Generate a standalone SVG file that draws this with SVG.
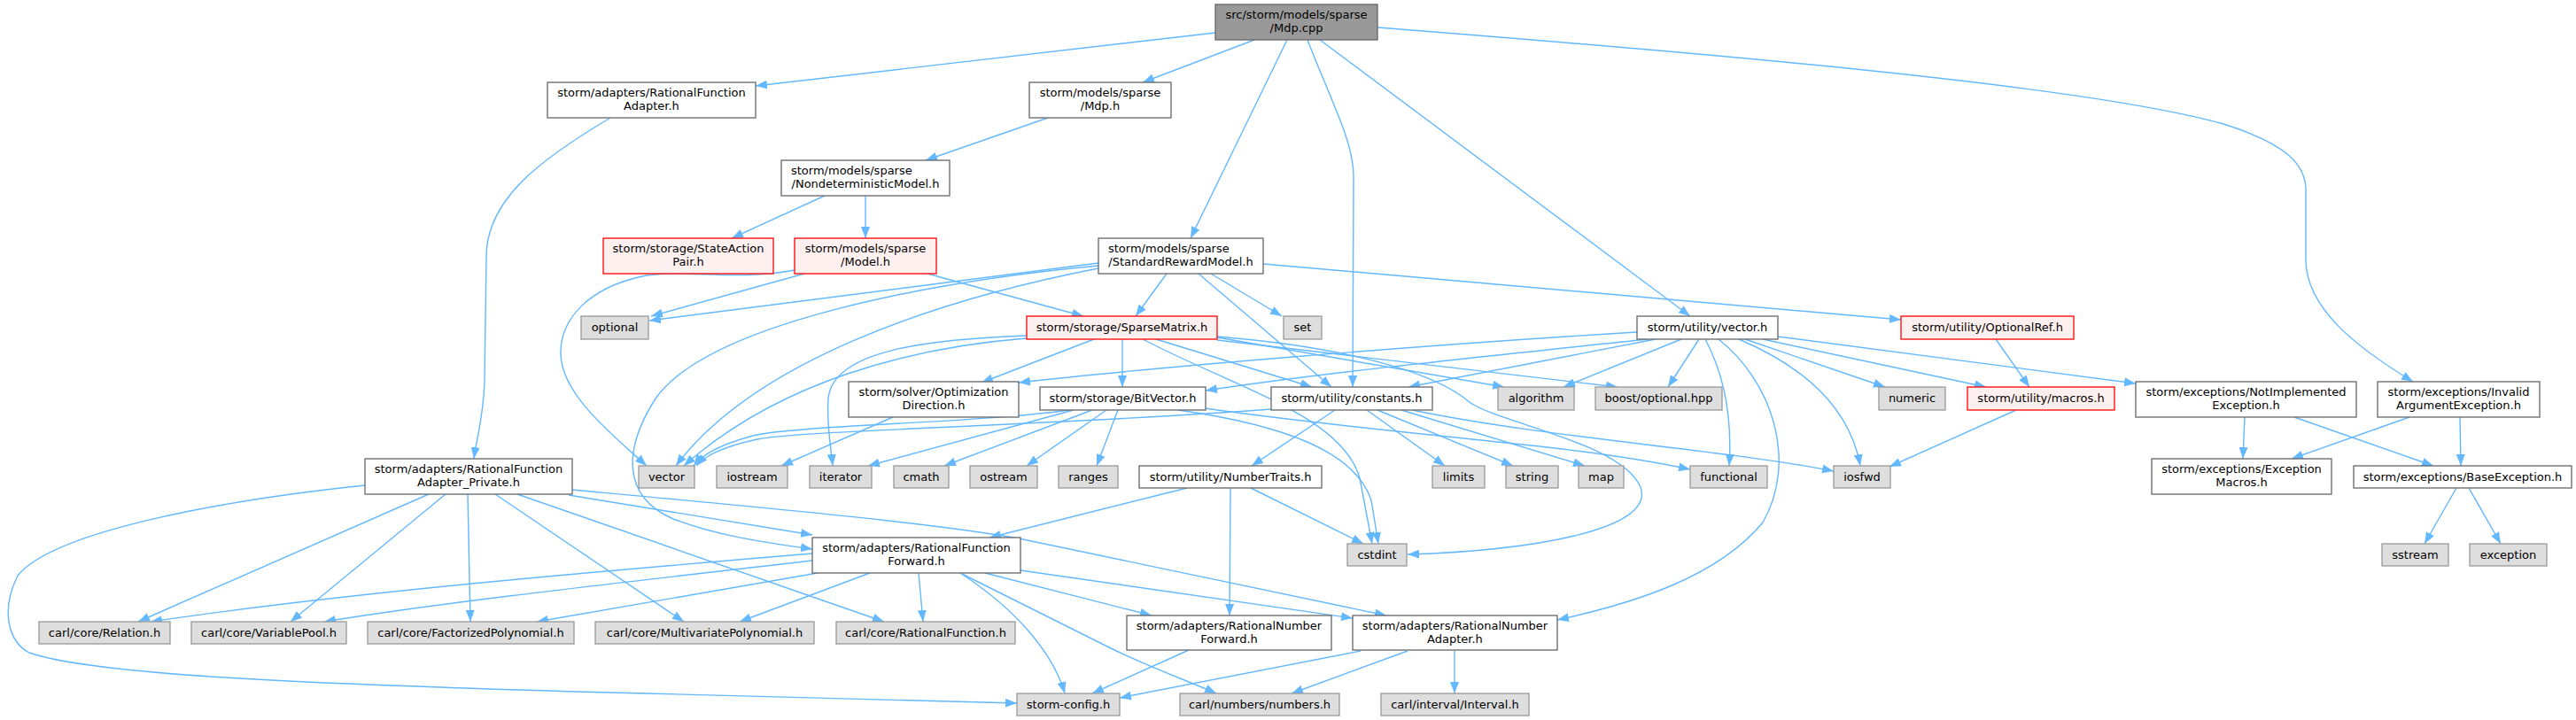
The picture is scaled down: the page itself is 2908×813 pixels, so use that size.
<svg xmlns="http://www.w3.org/2000/svg" width="2908" height="813" viewBox="0 0 2908 813">
<style>
text{font-family:"DejaVu Sans","Liberation Sans",sans-serif;font-size:13px;fill:#000;text-anchor:middle}
.s{text-anchor:start}
rect{stroke-width:1.3}
.n rect{fill:#fff;stroke:#666}
.g rect{fill:#dedede;stroke:#999}
.r rect{fill:#fff0f0;stroke:#f00}
.m rect{fill:#999;stroke:#666}
#edges path{fill:none;stroke:#63b8ff;stroke-width:1.4;marker-end:url(#a)}
</style>
<defs>
<marker id="a" markerUnits="userSpaceOnUse" markerWidth="14" markerHeight="10" refX="13" refY="5" orient="auto"><path d="M0,0L13,5L0,10z" fill="#63b8ff"/></marker>
</defs>
<rect width="2908" height="813" fill="#fff"/>
<g id="edges">
<path d="M1372,37 L853,97"/>
<path d="M1416,45 L1290,93"/>
<path d="M1453,45 L1344,269"/>
<path d="M1476,45 C1505,120 1528,160 1528,200 L1527,437"/>
<path d="M1490,45 L1908,357"/>
<path d="M1555,31 C1900,58 2350,95 2510,140 C2580,162 2603,185 2603,215 L2603,293 C2603,350 2665,395 2724,431"/>
<path d="M689,133 C610,180 549,225 549,290 L547,430 C546,470 538,495 535,518"/>
<path d="M1183,133 L1045,181"/>
<path d="M931,221 L826,269"/>
<path d="M977,221 L977,269"/>
<path d="M1047,309 L1223,357"/>
<path d="M908,309 L735,357"/>
<path d="M897,305 C830,318 770,303 725,312 C665,325 632,360 633,400 C634,445 690,490 730,526"/>
<path d="M1240,297 L733,362"/>
<path d="M1240,303 C1050,340 850,410 763,526"/>
<path d="M1240,300 C1050,318 800,365 740,450 C705,505 700,560 760,586 C810,605 860,612 917,620"/>
<path d="M1317,309 L1282,357"/>
<path d="M1367,309 L1447,357"/>
<path d="M1353,309 L1503,437"/>
<path d="M1426,298 L2146,361"/>
<path d="M1235,383 L1108,432"/>
<path d="M1267,383 L1267,437"/>
<path d="M1290,383 C1400,440 1515,470 1535,540 L1549,614"/>
<path d="M1305,383 L1481,437"/>
<path d="M1159,379 C1050,383 940,395 935,450 C933,480 938,505 940,526"/>
<path d="M1159,382 C1030,392 880,430 772,526"/>
<path d="M1374,381 L1698,437"/>
<path d="M1374,384 L1826,437"/>
<path d="M1374,380 C1520,392 1620,420 1660,455 C1700,480 1830,500 1852,550 C1870,600 1720,622 1589,626"/>
<path d="M1207,463 C1100,478 900,480 850,492 C820,500 795,510 783,526"/>
<path d="M1435,462 C1200,480 900,486 855,496 C822,503 797,513 786,526"/>
<path d="M1212,463 L980,526"/>
<path d="M1233,463 L1066,526"/>
<path d="M1249,463 L1159,526"/>
<path d="M1262,463 L1238,526"/>
<path d="M1330,463 C1450,480 1530,510 1548,565 L1556,614"/>
<path d="M1360,461 C1480,478 1580,487 1700,500 C1800,510 1860,520 1908,530"/>
<path d="M1507,463 L1413,526"/>
<path d="M1543,463 L1631,526"/>
<path d="M1555,463 L1708,526"/>
<path d="M1582,463 L1789,526"/>
<path d="M1594,463 C1750,495 1950,508 2070,532"/>
<path d="M1340,551 L1117,607"/>
<path d="M1389,551 L1388,695"/>
<path d="M1412,551 L1539,614"/>
<path d="M1008,471 L882,526"/>
<path d="M412,548 C250,565 60,600 20,650 C0,690 10,725 33,737 C100,760 300,772 730,783 L1148,794"/>
<path d="M484,558 L156,702"/>
<path d="M503,558 L328,702"/>
<path d="M528,558 L531,702"/>
<path d="M559,558 L772,702"/>
<path d="M584,558 L998,702"/>
<path d="M642,559 L917,604"/>
<path d="M646,553 C850,572 1050,590 1150,608 L1565,695"/>
<path d="M917,625 C700,643 400,668 170,702"/>
<path d="M917,633 C700,658 500,680 366,702"/>
<path d="M923,647 L606,702"/>
<path d="M982,647 L835,702"/>
<path d="M1037,647 L1042,702"/>
<path d="M1084,647 C1150,690 1190,740 1202,783"/>
<path d="M1086,648 C1150,680 1210,710 1250,730 C1300,755 1340,768 1373,783"/>
<path d="M1112,647 L1300,695"/>
<path d="M1152,644 L1527,698"/>
<path d="M1342,734 L1233,783"/>
<path d="M1536,735 L1264,788"/>
<path d="M1589,735 L1458,783"/>
<path d="M1642,735 L1642,783"/>
<path d="M1940,383 C2000,430 2030,520 1990,590 C1940,650 1850,680 1758,700"/>
<path d="M1925,383 C1950,430 1955,480 1952,526"/>
<path d="M1963,383 C2050,420 2090,470 2100,526"/>
<path d="M1970,383 L2128,437"/>
<path d="M1990,383 L2242,437"/>
<path d="M2007,380 L2411,433"/>
<path d="M1898,383 L1765,437"/>
<path d="M1918,383 L1883,437"/>
<path d="M1869,383 L1590,437"/>
<path d="M1860,383 C1700,400 1500,420 1361,441"/>
<path d="M1848,375 C1600,390 1300,415 1150,432"/>
<path d="M2253,383 L2291,437"/>
<path d="M2276,463 L2133,527"/>
<path d="M2534,471 L2532,518"/>
<path d="M2590,471 L2747,526"/>
<path d="M2720,471 L2587,518"/>
<path d="M2777,471 L2778,526"/>
<path d="M2773,551 L2737,614"/>
<path d="M2787,551 L2823,614"/>
</g>
<g id="n_mdpcpp" class="m"><rect x="1372" y="5" width="183" height="40"/><text x="1463.5" y="21">src/storm/models/sparse</text><text x="1463.5" y="36">/Mdp.cpp</text></g>
<g id="n_rfadapter" class="n"><rect x="618" y="93" width="235" height="40"/><text x="735.5" y="109">storm/adapters/RationalFunction</text><text x="735.5" y="124">Adapter.h</text></g>
<g id="n_mdph" class="n"><rect x="1162" y="93" width="160" height="40"/><text x="1242" y="109">storm/models/sparse</text><text x="1242" y="124">/Mdp.h</text></g>
<g id="n_nondet" class="n"><rect x="882" y="181" width="190" height="40"/><text class="s" x="893" y="197">storm/models/sparse</text><text x="977" y="212">/NondeterministicModel.h</text></g>
<g id="n_sap" class="r"><rect x="681" y="269" width="192" height="40"/><text x="777" y="285">storm/storage/StateAction</text><text x="777" y="300">Pair.h</text></g>
<g id="n_model" class="r"><rect x="897" y="269" width="160" height="40"/><text x="977" y="285">storm/models/sparse</text><text x="977" y="300">/Model.h</text></g>
<g id="n_stdreward" class="n"><rect x="1240" y="269" width="186" height="40"/><text class="s" x="1251" y="285">storm/models/sparse</text><text x="1333" y="300">/StandardRewardModel.h</text></g>
<g id="n_optional" class="g"><rect x="656" y="357" width="76" height="26"/><text x="694" y="374">optional</text></g>
<g id="n_sparsematrix" class="r"><rect x="1159" y="357" width="215" height="26"/><text x="1266.5" y="374">storm/storage/SparseMatrix.h</text></g>
<g id="n_set" class="g"><rect x="1449" y="357" width="43" height="26"/><text x="1470.5" y="374">set</text></g>
<g id="n_vectorh" class="n"><rect x="1848" y="357" width="159" height="26"/><text x="1927.5" y="374">storm/utility/vector.h</text></g>
<g id="n_optionalref" class="r"><rect x="2146" y="357" width="195" height="26"/><text x="2243.5" y="374">storm/utility/OptionalRef.h</text></g>
<g id="n_optdir" class="n"><rect x="958" y="431" width="192" height="40"/><text x="1054" y="447">storm/solver/Optimization</text><text x="1054" y="462">Direction.h</text></g>
<g id="n_bitvector" class="n"><rect x="1174" y="437" width="187" height="26"/><text x="1267.5" y="454">storm/storage/BitVector.h</text></g>
<g id="n_constants" class="n"><rect x="1435" y="437" width="182" height="26"/><text x="1526" y="454">storm/utility/constants.h</text></g>
<g id="n_algorithm" class="g"><rect x="1691" y="437" width="86" height="26"/><text x="1734" y="454">algorithm</text></g>
<g id="n_boost" class="g"><rect x="1801" y="437" width="143" height="26"/><text x="1872.5" y="454">boost/optional.hpp</text></g>
<g id="n_numeric" class="g"><rect x="2121" y="437" width="75" height="26"/><text x="2158.5" y="454">numeric</text></g>
<g id="n_macros" class="r"><rect x="2221" y="437" width="166" height="26"/><text x="2304" y="454">storm/utility/macros.h</text></g>
<g id="n_notimpl" class="n"><rect x="2411" y="431" width="249" height="40"/><text x="2535.5" y="447">storm/exceptions/NotImplemented</text><text x="2535.5" y="462">Exception.h</text></g>
<g id="n_invalidarg" class="n"><rect x="2684" y="431" width="183" height="40"/><text x="2775.5" y="447">storm/exceptions/Invalid</text><text x="2775.5" y="462">ArgumentException.h</text></g>
<g id="n_adapterprivate" class="n"><rect x="412" y="518" width="234" height="40"/><text x="529" y="534">storm/adapters/RationalFunction</text><text x="529" y="549">Adapter_Private.h</text></g>
<g id="n_vector" class="g"><rect x="721" y="526" width="63" height="25"/><text x="752.5" y="543">vector</text></g>
<g id="n_iostream" class="g"><rect x="809" y="526" width="80" height="25"/><text x="849" y="543">iostream</text></g>
<g id="n_iterator" class="g"><rect x="914" y="526" width="70" height="25"/><text x="949" y="543">iterator</text></g>
<g id="n_cmath" class="g"><rect x="1009" y="526" width="62" height="25"/><text x="1040" y="543">cmath</text></g>
<g id="n_ostream" class="g"><rect x="1095" y="526" width="76" height="25"/><text x="1133" y="543">ostream</text></g>
<g id="n_ranges" class="g"><rect x="1195" y="526" width="67" height="25"/><text x="1228.5" y="543">ranges</text></g>
<g id="n_numbertraits" class="n"><rect x="1286" y="526" width="206" height="25"/><text x="1389" y="543">storm/utility/NumberTraits.h</text></g>
<g id="n_limits" class="g"><rect x="1617" y="526" width="59" height="25"/><text x="1646.5" y="543">limits</text></g>
<g id="n_string" class="g"><rect x="1700" y="526" width="59" height="25"/><text x="1729.5" y="543">string</text></g>
<g id="n_map" class="g"><rect x="1782" y="526" width="51" height="25"/><text x="1807.5" y="543">map</text></g>
<g id="n_functional" class="g"><rect x="1908" y="526" width="87" height="25"/><text x="1951.5" y="543">functional</text></g>
<g id="n_iosfwd" class="g"><rect x="2070" y="526" width="64" height="25"/><text x="2102" y="543">iosfwd</text></g>
<g id="n_excmacros" class="n"><rect x="2429" y="518" width="203" height="40"/><text x="2530.5" y="534">storm/exceptions/Exception</text><text x="2530.5" y="549">Macros.h</text></g>
<g id="n_baseexc" class="n"><rect x="2657" y="526" width="246" height="25"/><text x="2780" y="543">storm/exceptions/BaseException.h</text></g>
<g id="n_rfforward" class="n"><rect x="917" y="607" width="235" height="40"/><text x="1034.5" y="623">storm/adapters/RationalFunction</text><text x="1034.5" y="638">Forward.h</text></g>
<g id="n_cstdint" class="g"><rect x="1521" y="614" width="67" height="25"/><text x="1554.5" y="631">cstdint</text></g>
<g id="n_sstream" class="g"><rect x="2689" y="614" width="75" height="25"/><text x="2726.5" y="631">sstream</text></g>
<g id="n_exception" class="g"><rect x="2788" y="614" width="87" height="25"/><text x="2831.5" y="631">exception</text></g>
<g id="n_rnforward" class="n"><rect x="1272" y="695" width="231" height="39"/><text x="1387.5" y="711">storm/adapters/RationalNumber</text><text x="1387.5" y="726">Forward.h</text></g>
<g id="n_rnadapter" class="n"><rect x="1527" y="695" width="231" height="39"/><text x="1642.5" y="711">storm/adapters/RationalNumber</text><text x="1642.5" y="726">Adapter.h</text></g>
<g id="n_relation" class="g"><rect x="44" y="702" width="148" height="25"/><text x="118" y="719">carl/core/Relation.h</text></g>
<g id="n_variablepool" class="g"><rect x="216" y="702" width="175" height="25"/><text x="303.5" y="719">carl/core/VariablePool.h</text></g>
<g id="n_factorized" class="g"><rect x="415" y="702" width="233" height="25"/><text x="531.5" y="719">carl/core/FactorizedPolynomial.h</text></g>
<g id="n_multivariate" class="g"><rect x="672" y="702" width="247" height="25"/><text x="795.5" y="719">carl/core/MultivariatePolynomial.h</text></g>
<g id="n_rationalfunction" class="g"><rect x="944" y="702" width="202" height="25"/><text x="1045" y="719">carl/core/RationalFunction.h</text></g>
<g id="n_stormconfig" class="g"><rect x="1148" y="783" width="116" height="25"/><text x="1206" y="800">storm-config.h</text></g>
<g id="n_numbers" class="g"><rect x="1332" y="783" width="180" height="25"/><text x="1422" y="800">carl/numbers/numbers.h</text></g>
<g id="n_interval" class="g"><rect x="1559" y="783" width="167" height="25"/><text x="1642.5" y="800">carl/interval/Interval.h</text></g>
</svg>
